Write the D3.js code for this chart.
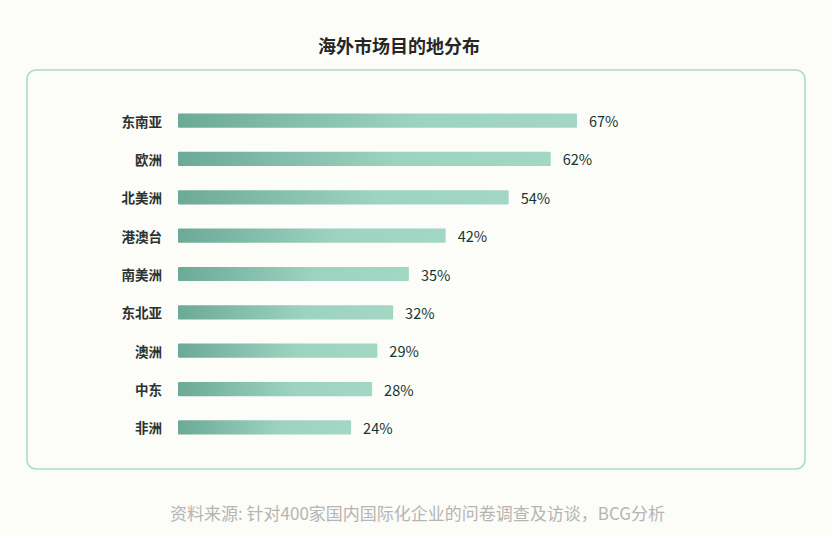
<!DOCTYPE html>
<html>
<head>
<meta charset="utf-8">
<script src="https://cdn.jsdelivr.net/npm/d3@7"></script>
<style>
  html, body { margin: 0; padding: 0; background: #fcfcf9; }
  svg { display: block; font-family: "Noto Sans CJK SC", "Noto Sans", sans-serif; }
</style>
</head>
<body>
<div id="chart"></div>
<script>
const regions = ["东南亚", "欧洲", "北美洲", "港澳台", "南美洲", "东北亚", "澳洲", "中东", "非洲"];
const shares = [67, 62, 54, 42, 35, 32, 29, 28, 24];

const width = 832, height = 535;
const box = {left: 27, top: 70, right: 805, bottom: 469};
const barStart = 178;

const svg = d3.select("#chart").append("svg")
    .attr("width", width)
    .attr("height", height);

const defs = svg.append("defs");
const grad = defs.append("linearGradient")
    .attr("id", "barGrad")
    .attr("x1", "0%").attr("x2", "100%")
    .attr("y1", "0%").attr("y2", "0%");
grad.append("stop").attr("offset", "0%").attr("stop-color", "#6ca997");
grad.append("stop").attr("offset", "60%").attr("stop-color", "#9dd3c1");
grad.append("stop").attr("offset", "100%").attr("stop-color", "#a3d7c5");

// title
svg.append("text")
    .attr("x", 399)
    .attr("y", 45)
    .attr("text-anchor", "middle")
    .attr("dominant-baseline", "central")
    .attr("font-size", 18)
    .attr("font-weight", 700)
    .attr("fill", "#262626")
    .text("海外市场目的地分布");

// frame
svg.append("rect")
    .attr("x", box.left)
    .attr("y", box.top)
    .attr("width", box.right - box.left)
    .attr("height", box.bottom - box.top)
    .attr("rx", 9)
    .attr("fill", "none")
    .attr("stroke", "#a8dbc8")
    .attr("stroke-width", 1.6);

// the bars have a short stub before zero, so the scale starts a bit right of barStart
const x = d3.scaleLinear()
    .domain([0, d3.max(shares)])
    .range([barStart + 47, 577]);

const y = d3.scaleBand()
    .domain(regions)
    .range([102, 446])
    .paddingInner(0.63)
    .paddingOuter(0.3);

const rows = svg.append("g").selectAll("g")
    .data(regions)
    .enter().append("g");

rows.append("rect")
    .attr("x", barStart)
    .attr("y", d => y(d))
    .attr("width", (d, i) => x(shares[i]) - barStart)
    .attr("height", y.bandwidth())
    .attr("rx", 1)
    .attr("fill", "url(#barGrad)");

rows.append("text")
    .attr("x", 162)
    .attr("y", d => y(d) + y.bandwidth() / 2)
    .attr("text-anchor", "end")
    .attr("dominant-baseline", "central")
    .attr("font-size", 13.5)
    .attr("font-weight", 700)
    .attr("fill", "#2a3331")
    .text(d => d);

rows.append("text")
    .attr("x", (d, i) => x(shares[i]) + 12)
    .attr("y", d => y(d) + y.bandwidth() / 2)
    .attr("dominant-baseline", "central")
    .attr("font-size", 14.5)
    .attr("font-weight", 400)
    .attr("fill", "#17352f")
    .text((d, i) => shares[i] + "%");

// source note
svg.append("text")
    .attr("x", 170)
    .attr("y", 512)
    .attr("dominant-baseline", "central")
    .attr("font-size", 17)
    .attr("fill", "#b5b5b3")
    .text("资料来源: 针对400家国内国际化企业的问卷调查及访谈，BCG分析");
</script>
</body>
</html>
